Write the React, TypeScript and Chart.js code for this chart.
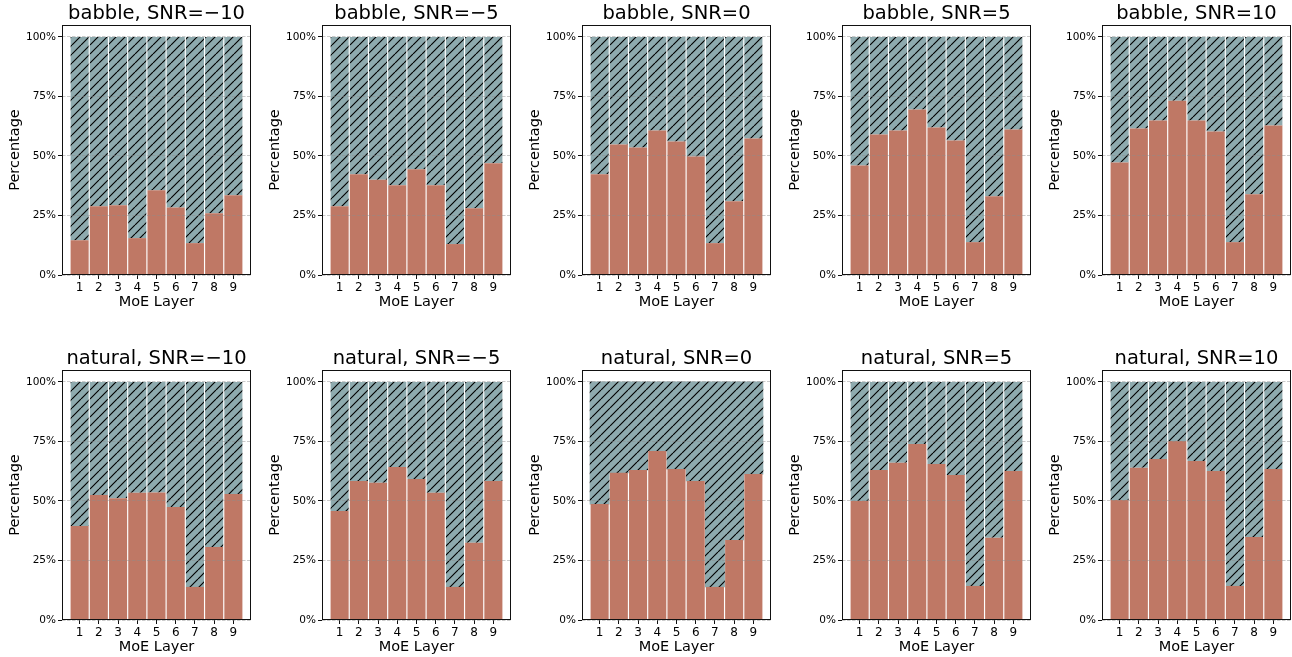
import React, { useEffect, useRef } from "react";
import { Chart, registerables } from "chart.js";

Chart.register(...registerables);

// ---------- data ----------
const LAYERS = [1, 2, 3, 4, 5, 6, 7, 8, 9];
const Y_TICKS = [0, 25, 50, 75, 100];
const NOISE_TYPES = ["babble", "natural"];
const SNR_LEVELS = ["−10", "−5", "0", "5", "10"];

// lower (salmon) share in %, per MoE layer; the hatched part is the remainder to 100%
const BABBLE_M10 = [14.6, 28.9, 29.3, 15.5, 35.6, 28.3, 13.4, 25.9, 33.5];
const BABBLE_M5 = [28.9, 42.3, 40.0, 37.7, 44.4, 37.7, 13.0, 28.0, 46.9];
const BABBLE_0 = [42.3, 54.8, 53.6, 60.7, 56.1, 49.8, 13.4, 31.0, 57.3];
const BABBLE_5 = [46.0, 59.0, 60.7, 69.5, 61.9, 56.5, 13.8, 33.1, 61.1];
const BABBLE_10 = [47.3, 61.5, 64.9, 73.2, 64.9, 60.3, 13.8, 33.9, 62.8];

const NATURAL_M10 = [39.5, 52.5, 51.1, 53.4, 53.6, 47.5, 13.9, 30.7, 52.9];
const NATURAL_M5 = [45.8, 58.4, 57.6, 64.3, 59.2, 53.4, 13.9, 32.4, 58.4];
const NATURAL_0 = [48.7, 61.8, 63.0, 71.0, 63.4, 58.4, 13.9, 33.6, 61.3];
const NATURAL_5 = [50.0, 63.0, 66.0, 73.9, 65.5, 60.9, 14.3, 34.5, 62.6];
const NATURAL_10 = [50.4, 63.9, 67.6, 75.2, 66.8, 62.6, 14.3, 34.9, 63.4];

const SERIES_BY_NOISE = [
  [BABBLE_M10, BABBLE_M5, BABBLE_0, BABBLE_5, BABBLE_10],
  [NATURAL_M10, NATURAL_M5, NATURAL_0, NATURAL_5, NATURAL_10],
];

// ---------- style ----------
const FONT = "'DejaVu Sans', 'Liberation Sans', sans-serif";
const SALMON = "#bf7865";
const TEAL = "#8eaaae";
const HATCH_SPACING = 9;
const BAR_WIDTH = 0.94;
const X_MARGIN = 0.05 * (LAYERS.length - 1 + BAR_WIDTH);
const X_MIN = LAYERS[0] - BAR_WIDTH / 2 - X_MARGIN;
const X_MAX = LAYERS[LAYERS.length - 1] + BAR_WIDTH / 2 + X_MARGIN;
const Y_MAX = 105;

const CANVAS_W = 260;
const CANVAS_H = 312;
const ROW_TOP = [0, 345];

function makeHatch(): CanvasPattern | string {
  const s = HATCH_SPACING;
  const c = document.createElement("canvas");
  c.width = s;
  c.height = s;
  const g = c.getContext("2d");
  if (!g) return TEAL;
  g.fillStyle = TEAL;
  g.fillRect(0, 0, s, s);
  g.strokeStyle = "#000";
  g.lineWidth = 1.15;
  g.beginPath();
  for (const o of [-s, 0, s]) {
    g.moveTo(o, s);
    g.lineTo(o + s, 0);
  }
  g.stroke();
  return g.createPattern(c, "repeat") || TEAL;
}

const framePlugin = {
  id: "frame",
  afterDraw(chart: any, _args: any, opts: any) {
    const { ctx, chartArea } = chart;
    const l = Math.round(chartArea.left) + 0.5;
    const t = Math.round(chartArea.top) + 0.5;
    const r = Math.round(chartArea.right) - 0.5;
    const b = Math.round(chartArea.bottom) - 0.5;
    ctx.save();
    ctx.strokeStyle = "#111";
    ctx.lineWidth = 1;
    ctx.strokeRect(l, t, r - l, b - t);
    // panel title, centred over the axes frame
    ctx.fillStyle = "#000";
    ctx.font = `19.5px ${FONT}`;
    ctx.textAlign = "center";
    ctx.textBaseline = "alphabetic";
    ctx.fillText(opts.text || "", (chartArea.left + chartArea.right) / 2, chartArea.top - 6.5);
    ctx.restore();
  },
};

function Panel({ noise, snr, lower, left, top, seamlessTop }: any) {
  const ref = useRef<HTMLCanvasElement | null>(null);
  useEffect(() => {
    if (!ref.current) return;
    const hatch = makeHatch();
    const chart = new Chart(ref.current, {
      type: "bar",
      data: {
        datasets: [
          {
            data: LAYERS.map((x, i) => ({ x, y: lower[i] })),
            backgroundColor: SALMON,
            borderWidth: 0,
            barPercentage: BAR_WIDTH,
            categoryPercentage: 1,
          },
          {
            data: LAYERS.map((x, i) => ({ x, y: 100 - lower[i] })),
            backgroundColor: hatch as any,
            borderWidth: 0,
            barPercentage: seamlessTop ? 1.0 : BAR_WIDTH,
            categoryPercentage: 1,
          },
        ],
      },
      options: {
        responsive: false,
        animation: false,
        devicePixelRatio: 1,
        layout: { padding: { left: 0, right: 9, top: 25, bottom: 0 } },
        plugins: {
          legend: { display: false },
          tooltip: { enabled: false },
          title: { display: false },
          frame: { text: `${noise}, SNR=${snr}` },
        },
        scales: {
          x: {
            type: "linear",
            stacked: true,
            min: X_MIN,
            max: X_MAX,
            offset: false,
            afterBuildTicks: (s: any) => {
              s.ticks = LAYERS.map((v) => ({ value: v }));
            },
            afterFit: (s: any) => {
              s.height = 37;
            },
            grid: {
              display: true,
              drawOnChartArea: false,
              drawTicks: true,
              tickLength: 4,
              tickColor: "#111",
              offset: false,
            },
            border: { display: false },
            ticks: {
              color: "#000",
              font: { family: FONT, size: 12 },
              padding: 2,
              maxRotation: 0,
              autoSkip: false,
              callback: (v: any) => String(v),
            },
            title: {
              display: true,
              text: "MoE Layer",
              color: "#000",
              font: { family: FONT, size: 14.5 },
              padding: { top: 0, bottom: 1 },
            },
          },
          y: {
            type: "linear",
            stacked: true,
            min: 0,
            max: Y_MAX,
            afterBuildTicks: (s: any) => {
              s.ticks = Y_TICKS.map((v) => ({ value: v }));
            },
            afterFit: (s: any) => {
              s.width = 62;
            },
            grid: {
              z: 1,
              color: "rgba(140,140,140,0.45)",
              lineWidth: 1,
              drawTicks: true,
              tickLength: 4,
              tickColor: "#111",
            },
            border: { display: false, dash: [3.5, 1.5] },
            ticks: {
              color: "#000",
              font: { family: FONT, size: 10.5 },
              padding: 2,
              callback: (v: any) => `${v}%`,
            },
            title: {
              display: true,
              text: "Percentage",
              color: "#000",
              font: { family: FONT, size: 14.5 },
              padding: { top: 6.5, bottom: 0 },
            },
          },
        },
      } as any,
      plugins: [framePlugin],
    });
    return () => chart.destroy();
  }, [noise, snr, lower, seamlessTop]);

  return (
    <canvas
      ref={ref}
      width={CANVAS_W}
      height={CANVAS_H}
      style={{ position: "absolute", left, top, width: CANVAS_W, height: CANVAS_H }}
    />
  );
}

export default function App() {
  const panels: any[] = [];
  NOISE_TYPES.forEach((noise, r) => {
    SNR_LEVELS.forEach((snr, c) => {
      panels.push(
        <Panel
          key={`${noise}-${snr}`}
          noise={noise}
          snr={snr}
          lower={SERIES_BY_NOISE[r][c]}
          left={c * CANVAS_W}
          top={ROW_TOP[r]}
          seamlessTop={noise === "natural" && snr === "0"}
        />
      );
    });
  });
  return (
    <div
      style={{
        position: "absolute",
        left: 0,
        top: 0,
        width: 1292,
        height: 657,
        overflow: "hidden",
        background: "#fff",
      }}
    >
      {panels}
    </div>
  );
}
